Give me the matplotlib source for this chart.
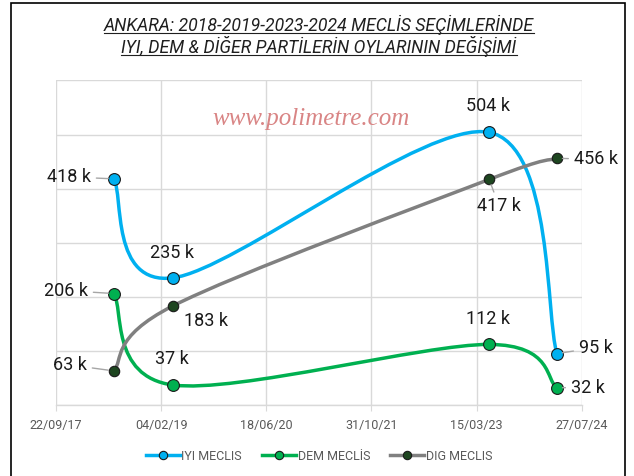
import numpy as np
import matplotlib
matplotlib.use("Agg")
import matplotlib.pyplot as plt
import matplotlib.dates as mdates
from matplotlib.path import Path
from matplotlib.patches import PathPatch, Rectangle
from matplotlib.lines import Line2D
import datetime as dt

# ---------------- data ----------------
election_dates = ["2018-06-24", "2019-03-31", "2023-05-14", "2024-03-31"]
iyi_votes = [418, 235, 504, 95]      # thousands
dem_votes = [206, 37, 112, 32]
dig_votes = [63, 183, 417, 456]
series_names = ["IYI MECLIS", "DEM MECLİS", "DIG MECLIS"]
title_lines = ["ANKARA: 2018-2019-2023-2024 MECLİS SEÇİMLERİNDE",
               "IYI, DEM & DİĞER PARTİLERİN OYLARININ DEĞİŞİMİ"]
watermark = "www.polimetre.com"
x_start, x_end, tick_step_days = "2017-09-22", "2024-07-27", 500
y_max, y_step = 600, 100

# ---------------- style ----------------
W, H, DPI = 634, 476, 100
line_colors = ["#00b0f0", "#00b050", "#808080"]
marker_colors = ["#00b0f0", "#00b050", "#1e4620"]
grid_color = "#d9d9d9"
label_font = "Roboto"

fig = plt.figure(figsize=(W / DPI, H / DPI), dpi=DPI)
fig.patch.set_facecolor("white")
ax = fig.add_axes([56 / W, 1 - 405 / H, (581.7 - 56) / W, (405 - 80.4) / H])

def d2n(s):
    return mdates.date2num(dt.datetime.strptime(s, "%Y-%m-%d"))

xs = np.array([d2n(s) for s in election_dates])
x0, x1 = d2n(x_start), d2n(x_end)
ax.set_xlim(x0, x1)
ax.set_ylim(0, y_max)
ax.set_xticks(np.arange(x0, x1 + 1, tick_step_days))
ax.xaxis.set_major_formatter(mdates.DateFormatter("%d/%m/%y"))
ax.set_yticks(np.arange(0, y_max + 1, y_step))
ax.set_yticklabels([])
ax.tick_params(axis="y", length=0)
ax.tick_params(axis="x", length=4, color=grid_color, labelcolor="#595959",
               labelsize=9, pad=6)
for lbl in ax.get_xticklabels():
    lbl.set_family(label_font)
ax.grid(True, color=grid_color, lw=1.0)
ax.set_axisbelow(True)
for s in ["top", "right", "left"]:
    ax.spines[s].set_visible(False)
ax.spines["bottom"].set_color(grid_color)
ax.spines["bottom"].set_linewidth(1.0)
ax.set_facecolor("white")

fig.canvas.draw()

def smooth_path(x, y):
    pts = ax.transData.transform(np.column_stack([x, y]))
    n = len(pts)
    verts = [pts[0]]
    codes = [Path.MOVETO]
    for i in range(n - 1):
        pm = pts[i - 1] if i > 0 else pts[i]
        p0, p1 = pts[i], pts[i + 1]
        p2 = pts[i + 2] if i + 2 < n else pts[i + 1]
        c1 = p0 + (p1 - pm) / 6.0
        c2 = p1 - (p2 - p0) / 6.0
        verts += [c1, c2, p1]
        codes += [Path.CURVE4] * 3
    verts = ax.transData.inverted().transform(np.array(verts))
    return Path(verts, codes)

all_series = [iyi_votes, dem_votes, dig_votes]
msizes = [8.5, 8.5, 7.5]
for vals, lc, mc, ms in zip(all_series, line_colors, marker_colors, msizes):
    ax.add_patch(PathPatch(smooth_path(xs, vals), fill=False, edgecolor=lc,
                           lw=2.5, capstyle="round", joinstyle="round", zorder=3))
    ax.plot(xs, vals, ls="none", marker="o", ms=ms, mfc=mc, mec="#1a1a1a",
            mew=0.8, zorder=4)

# data labels: offsets in pixels (dx right, dy down), leader flag
label_offsets = {
    0: [(-45, -2, True), (-1, -25, False), (-1, -26, False), (39, -6, True)],
    1: [(-48, -3, True), (-1, -26, False), (-1, -25, False), (31, 0, True)],
    2: [(-44, -6, True), (33, 15, False), (10, 27, True), (39, 1, True)],
}
for si, vals in enumerate(all_series):
    for pi, v in enumerate(vals):
        dx, dy, leader = label_offsets[si][pi]
        kw = {}
        if leader:
            kw["arrowprops"] = dict(arrowstyle="-", color="#a6a6a6", lw=1.0,
                                    shrinkA=2, shrinkB=4)
        ax.annotate(f"{v} k", xy=(xs[pi], v), xytext=(dx * 0.72, -dy * 0.72),
                    textcoords="offset points", ha="center", va="center",
                    fontsize=13, family=label_font, color="#1a1a1a",
                    zorder=5, **kw)

# watermark
fig.text(311 / W, 1 - 125.5 / H, watermark, ha="center", va="baseline",
         family="Liberation Serif", style="italic", fontsize=18,
         color="#d98585", zorder=10)

# title with underline
renderer = fig.canvas.get_renderer()
baselines = [30.7, 52.8]
for line, by in zip(title_lines, baselines):
    t = fig.text(319 / W, 1 - by / H, line, ha="center", va="baseline",
                 family="Roboto", style="italic", fontsize=12.7, color="#1f1f1f")
    bb = t.get_window_extent(renderer)
    uy = (1 - (by + 2.2) / H)
    fig.add_artist(Line2D([bb.x0 / W, bb.x1 / W], [uy, uy],
                          transform=fig.transFigure, color="#1f1f1f", lw=0.8))

# legend
handles = [Line2D([], [], color=lc, lw=2.5, marker="o", ms=6, mfc=mc,
                  mec="#1a1a1a", mew=0.8)
           for lc, mc in zip(line_colors, marker_colors)]
leg = fig.legend(handles, series_names, loc="center", ncol=3,
                 bbox_to_anchor=(319 / W, 1 - 456 / H), frameon=False,
                 handlelength=2.7, handletextpad=0.15, columnspacing=1.6,
                 prop={"family": label_font, "size": 9})
for txt in leg.get_texts():
    txt.set_color("#595959")

# outer border
fig.add_artist(Rectangle((11 / W, -0.02), (625 - 11) / W, (473 / H) + 0.02,
                         transform=fig.transFigure, fill=False,
                         edgecolor="black", lw=1.2))

fig.savefig("out.png", dpi=DPI)
